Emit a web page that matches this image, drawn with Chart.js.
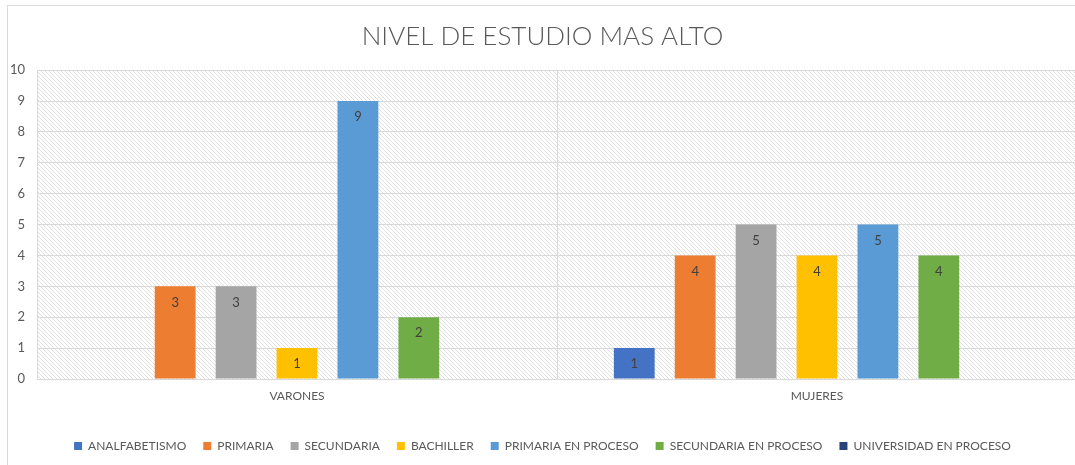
<!DOCTYPE html>
<html>
<head>
<meta charset="utf-8">
<script src="https://cdn.jsdelivr.net/npm/chart.js@4.4.0/dist/chart.umd.min.js"></script>
<style>
  html, body { margin: 0; padding: 0; background: #fff; overflow: hidden; }
  #frame { position: absolute; left: 7px; top: 5px; width: 1090px; height: 480px; border: 1px solid #d9d9d9; }
  #myChart { position: absolute; left: 0; top: 0; }
</style>
</head>
<body>
<div id="frame"><canvas id="myChart" width="1077" height="462"></canvas></div>
<script>
'use strict';

// categories and series
let categories = ['VARONES', 'MUJERES'];
let seriesNames = ['ANALFABETISMO', 'PRIMARIA', 'SECUNDARIA', 'BACHILLER', 'PRIMARIA EN PROCESO', 'SECUNDARIA EN PROCESO', 'UNIVERSIDAD EN PROCESO'];
let analfabetismo = [0, 1];
let primaria = [3, 4];
let secundaria = [3, 5];
let bachiller = [1, 4];
let primariaProceso = [9, 5];
let secundariaProceso = [2, 4];
let universidadProceso = [0, 0];
let yTicks = [0, 1, 2, 3, 4, 5, 6, 7, 8, 9, 10];

let seriesValues = [analfabetismo, primaria, secundaria, bachiller, primariaProceso, secundariaProceso, universidadProceso];
let colors = ['#4472C4', '#ED7D31', '#A5A5A5', '#FFC000', '#5B9BD5', '#70AD47', '#264478'];

//////////////////////// hatch pattern for plot area ////////////////////////
function makeHatch(){
    let c = document.createElement('canvas');
    c.width = 4; c.height = 4;
    let g = c.getContext('2d');
    g.fillStyle = '#ffffff';
    g.fillRect(0, 0, 4, 4);
    g.fillStyle = '#e0e0e0';
    for (let i = 0; i < 4; i++) { g.fillRect(i, i, 1, 1); }
    return g.createPattern(c, 'repeat');
}

let hatchPlugin = {
    id: 'hatch',
    beforeDraw(chart){
        let a = chart.chartArea;
        let ctx = chart.ctx;
        ctx.save();
        ctx.fillStyle = makeHatch();
        ctx.fillRect(a.left, a.top, a.right - a.left, a.bottom - a.top);
        ctx.restore();
    }
};

//////////////////////// value labels inside bars ////////////////////////
let labelPlugin = {
    id: 'barLabels',
    afterDatasetsDraw(chart){
        let ctx = chart.ctx;
        ctx.save();
        ctx.font = '13px Lato, "Open Sans", sans-serif';
        ctx.fillStyle = '#404040';
        ctx.textAlign = 'center';
        ctx.textBaseline = 'middle';
        chart.data.datasets.forEach(function(ds, i){
            chart.getDatasetMeta(i).data.forEach(function(bar, j){
                let v = ds.data[j];
                if (v > 0) { ctx.fillText(String(v), bar.x, bar.y + 16); }
            });
        });
        ctx.restore();
    }
};

let datasets = [];
for (let i = 0; i < seriesNames.length; i++) {
    datasets.push({
        label: seriesNames[i],
        data: seriesValues[i],
        backgroundColor: colors[i],
        borderWidth: 0,
        categoryPercentage: 0.82,
        barPercentage: 0.67
    });
}

let ctx = document.getElementById('myChart');
let myChart = new Chart(ctx, {
    type: 'bar',
    data: { labels: categories, datasets: datasets },
    plugins: [hatchPlugin, labelPlugin],
    options: {
        responsive: false,
        animation: false,
        layout: { padding: { left: 0, right: 8, top: 0, bottom: 6 } },
        plugins: {
            title: {
                display: true,
                text: 'NIVEL DE ESTUDIO MAS ALTO',
                color: '#595959',
                font: { family: 'Lato, "Open Sans", sans-serif', size: 26, weight: '300' },
                padding: { top: 15, bottom: 18 }
            },
            legend: {
                position: 'bottom',
                labels: {
                    color: '#595959',
                    font: { family: 'Lato, "Open Sans", sans-serif', size: 12 },
                    boxWidth: 8,
                    boxHeight: 8,
                    padding: 17
                }
            },
            tooltip: { enabled: false }
        },
        scales: {
            x: {
                grid: { color: '#d9d9d9', drawTicks: false, offset: true },
                border: { color: '#d9d9d9' },
                ticks: { color: '#595959', padding: 10, font: { family: 'Lato, "Open Sans", sans-serif', size: 12 } },
                afterFit(scale){ scale.height = 44; }
            },
            y: {
                min: 0,
                max: 10,
                afterBuildTicks(scale){ scale.ticks = yTicks.map(function(v){ return { value: v }; }); },
                grid: { color: '#d9d9d9', drawTicks: false },
                border: { display: false },
                ticks: { color: '#595959', padding: 12, font: { family: 'Lato, "Open Sans", sans-serif', size: 13 } },
                afterFit(scale){ scale.width = 29; }
            }
        }
    }
});
</script>
</body>
</html>
